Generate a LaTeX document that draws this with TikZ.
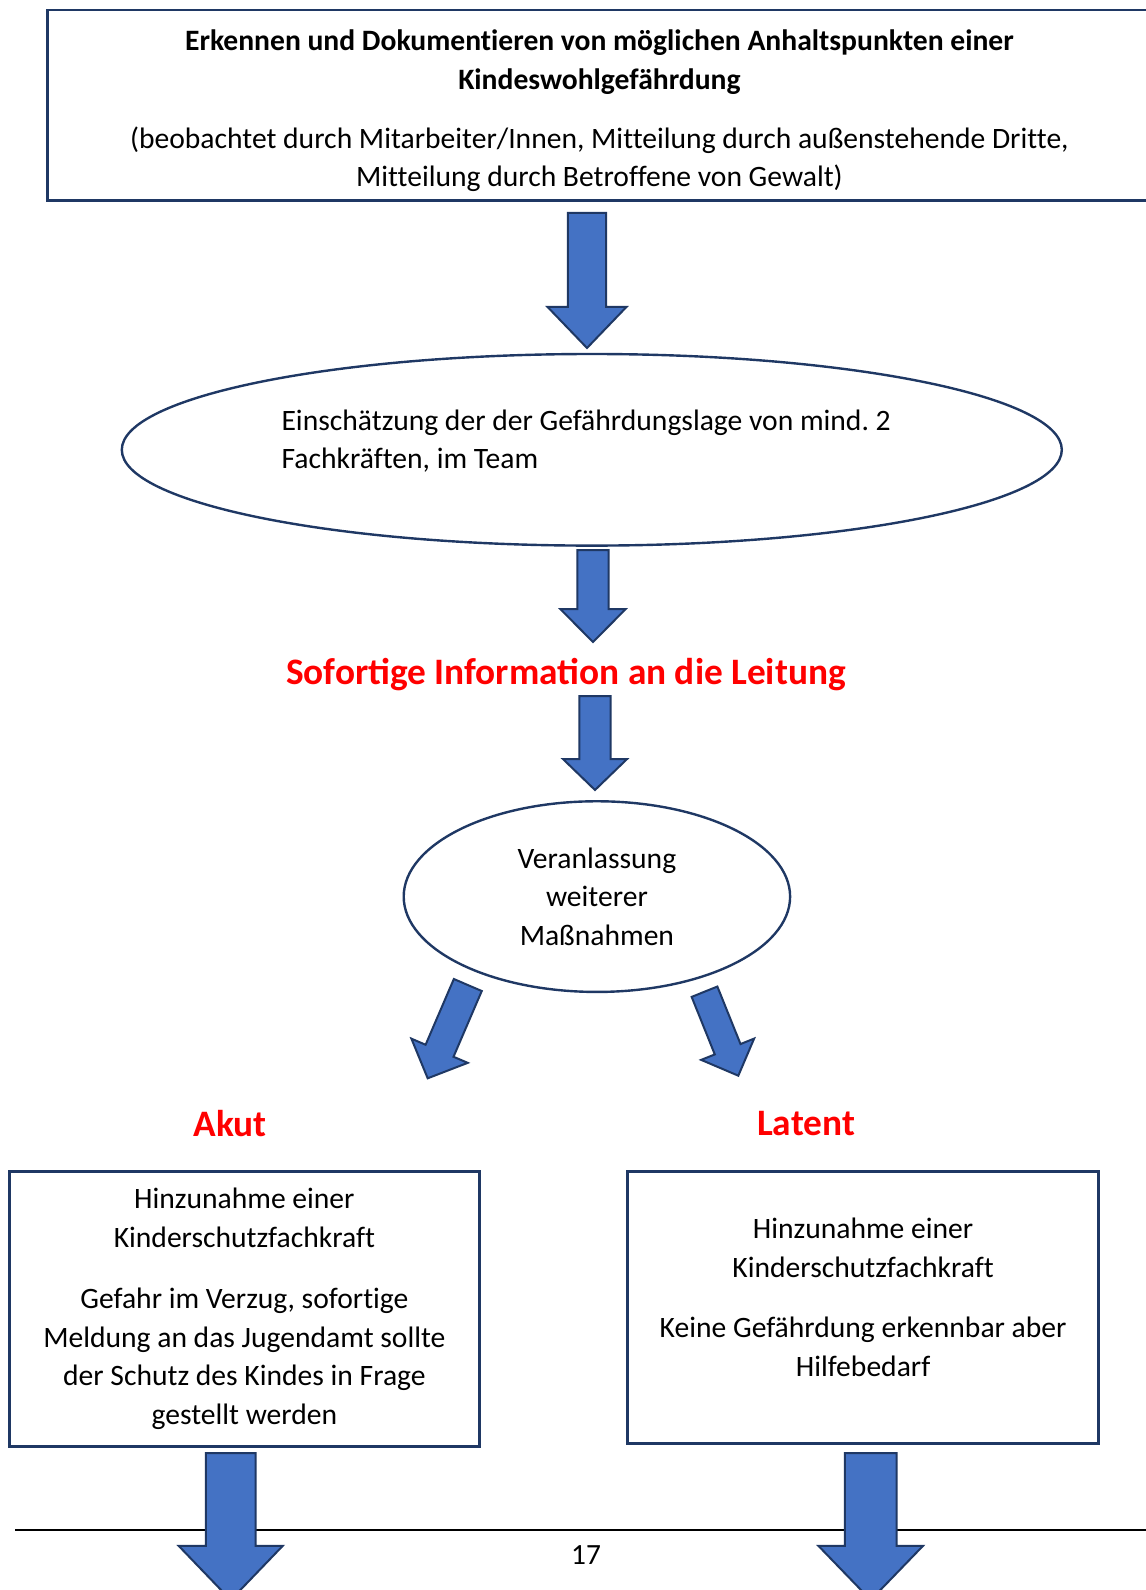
\documentclass[tikz,border=0pt]{standalone}
\usepackage{fontspec}
\setmainfont{Carlito}[Ligatures=NoCommon]
\usepackage{tikz}
\usetikzlibrary{calc,shapes.geometric}
\definecolor{arrowblue}{RGB}{68,114,196}
\definecolor{navy}{RGB}{31,56,100}
\frenchspacing
\tikzset{
  box/.style={draw=navy,line width=1.1pt,rectangle,inner sep=0pt,align=center,
    font=\fontsize{11.1}{14.6}\selectfont},
  oval/.style={draw=navy,line width=0.9pt,ellipse,inner sep=0pt,align=center,
    font=\fontsize{11.1}{14.4}\selectfont},
  txt/.style={inner sep=0pt,font=\fontsize{11.1}{14.5}\selectfont},
  heading/.style={inner sep=0pt,text=red,
    font=\bfseries\fontsize{14}{17}\selectfont\addfontfeatures{Ligatures=Common}},
  blockarrow/.style={draw=navy,fill=arrowblue,line width=0.75pt,line join=miter},
  footer/.style={draw=black,line width=0.6pt}
}
\newcommand{\blockarrow}[5]{%
  \coordinate (arrowbase) at ($(#2)!#5!(#1)$);
  \draw[blockarrow] ($(#1)!#3!90:(#2)$) -- ($(arrowbase)!#3!90:(#2)$)
    -- ($(arrowbase)!#4!90:(#2)$) -- (#2) -- ($(arrowbase)!#4!-90:(#2)$)
    -- ($(arrowbase)!#3!-90:(#2)$) -- ($(#1)!#3!-90:(#2)$) -- cycle;}
\begin{document}
\begin{tikzpicture}[x=0.375pt,y=-0.375pt]
    \useasboundingbox (0,0) rectangle (1146,1590);
    \clip (0,0) rectangle (1146,1590);
    \node[box,minimum width=413.7pt,minimum height=71.6pt](erkennen) at (599.4,105.5) {};
    \node[txt,align=center](erkennentext) at (599.4,111)
      {\textbf{Erkennen und Dokumentieren von möglichen Anhaltspunkten einer}\\
       \textbf{Kindeswohlgefährdung}\\[7.6pt]
       (beobachtet durch Mitarbeiter/Innen, Mitteilung durch außenstehende Dritte,\\
       Mitteilung durch Betroffene von Gewalt)};
    \node[oval,minimum width=352.5pt,minimum height=71.85pt](lage) at (591.8,449.8) {};
    \node[txt,align=left,anchor=west](lagetext) at (281,441)
      {Einschätzung der der Gefährdungslage von mind. 2\\Fachkräften, im Team};
    \node[heading](info) at (566,675) {Sofortige Information an die Leitung};
    \node[oval,minimum width=144.9pt,minimum height=71.5pt](massnahmen) at (596.9,896.6)
      {Veranlassung\\weiterer\\Maßnahmen};
    \node[heading](akut) at (230,1124) {Akut};
    \node[heading](latent) at (806,1124) {Latent};
    \node[box,minimum width=176.5pt,minimum height=103.1pt](akutbox) at (244.4,1308.9)
      {Hinzunahme einer\\Kinderschutzfachkraft\\[8.2pt]
       Gefahr im Verzug, sofortige\\Meldung an das Jugendamt sollte\\
       der Schutz des Kindes in Frage\\gestellt werden};
    \node[box,minimum width=176.5pt,minimum height=101.9pt](latentbox) at (863.1,1307.3) {};
    \node[txt,align=center](latenttext) at ($(latentbox.center)+(0,-10)$)
      {Hinzunahme einer\\Kinderschutzfachkraft\\[8.2pt]
       Keine Gefährdung erkennbar aber\\Hilfebedarf};
    \draw[footer] (15,1530) -- (1146,1530);
    \node[txt,font=\fontsize{11}{13}\selectfont](seite) at (586,1555) {17};
    % ends of the block arrows
    \coordinate (a1s) at (587,213);   \coordinate (a1e) at (587,348);
    \coordinate (a2s) at (593,550);   \coordinate (a2e) at (593,642);
    \coordinate (a3s) at (595,696);   \coordinate (a3e) at (595,790);
    \coordinate (a4s) at (467.8,985); \coordinate (a4e) at (427.7,1078.3);
    \coordinate (a5s) at (704.5,991.7); \coordinate (a5e) at (738.3,1075.7);
    \coordinate (a6s) at (230.7,1453); \coordinate (a6e) at (230.7,1600);
    \coordinate (a7s) at (870.7,1453); \coordinate (a7e) at (870.7,1600);
    \blockarrow{a1s}{a1e}{7.2pt}{14.8pt}{15.4pt}
    \blockarrow{a2s}{a2e}{5.9pt}{12.2pt}{12.3pt}
    \blockarrow{a3s}{a3e}{5.9pt}{12pt}{11.6pt}
    \blockarrow{a4s}{a4e}{5.7pt}{11.5pt}{11.25pt}
    \blockarrow{a5s}{a5e}{5.2pt}{10.7pt}{10.7pt}
    \blockarrow{a6s}{a6e}{9.3pt}{19.5pt}{20.3pt}
    \blockarrow{a7s}{a7e}{9.7pt}{19.6pt}{20.3pt}
\end{tikzpicture}
\end{document}
